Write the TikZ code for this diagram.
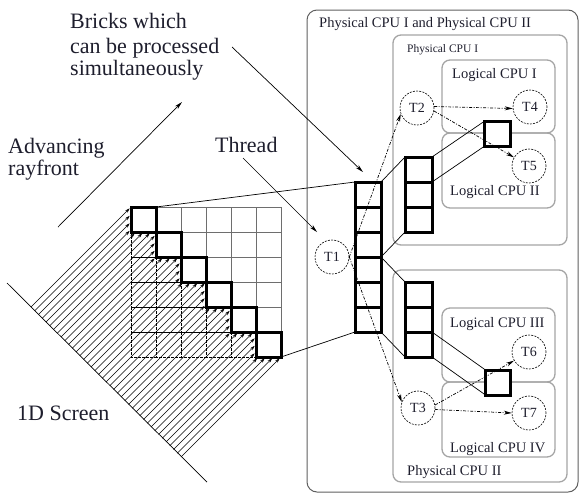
\documentclass[tikz,border=0pt]{standalone}
\usepackage{fontspec}
\setmainfont{Liberation Serif}
\usetikzlibrary{arrows.meta}
\definecolor{textc}{RGB}{30,30,45}
\definecolor{outerc}{RGB}{95,95,95}
\definecolor{innerc}{RGB}{165,165,165}
\definecolor{gridc}{RGB}{110,110,110}
\begin{document}
\begin{tikzpicture}[x=1pt,y=-1pt,
  brick/.style={draw=black, line width=3pt, minimum width=25pt, minimum height=25pt, inner sep=0pt, outer sep=0pt},
  stackcell/.style={brick, minimum width=26pt},
  smallbox/.style={brick, fill=white, minimum width=26pt},
  thinline/.style={draw=black, line width=0.7pt},
  gridline/.style={draw=gridc, line width=0.8pt},
  dashgrid/.style={draw=black, line width=0.7pt, dash pattern=on 2.5pt off 1.5pt},
  ray/.style={draw=black, line width=0.4pt, -{Stealth[length=5pt,width=3pt]}, shorten >=1.8pt},
  plainarrow/.style={draw=black, line width=0.7pt, -{Stealth[length=8pt,width=4pt]}},
  dasharrow/.style={draw=black, line width=0.7pt, dash pattern=on 3pt off 1.5pt on 1pt off 1.5pt, -{Stealth[length=8pt,width=4pt]}},
  thread/.style={circle, draw=black, line width=0.6pt, dash pattern=on 2pt off 1.2pt, minimum size=34pt, inner sep=0pt, fill=white, font=\fontsize{14}{16}\selectfont, text=textc},
  biglabel/.style={anchor=base west, inner sep=0pt, font=\fontsize{22}{24}\selectfont, text=textc},
  cpulabel/.style={anchor=base west, inner sep=0pt, font=\fontsize{14.5}{16}\selectfont, text=textc},
  outerbox/.style={draw=outerc, line width=1pt, rounded corners=10pt},
  innerbox/.style={draw=innerc, line width=1.3pt, rounded corners=8pt}
]
\useasboundingbox (0,0) rectangle (585,493);

% containers
\draw[outerbox] (307,10) rectangle (578,492);
\draw[innerbox] (393,35) rectangle (567,245);
\draw[innerbox] (393,270) rectangle (567,482);
\draw[innerbox] (442,60) rectangle (555,133);
\draw[innerbox] (442,133) rectangle (555,208);
\draw[innerbox] (442,308) rectangle (555,382);
\draw[innerbox] (442,382) rectangle (555,457);

% labels
\node[biglabel] (lb1) at (70,28) {Bricks which};
\node[biglabel] (lb2) at (70,53) {can be processed};
\node[biglabel] (lb3) at (70,75) {simultaneously};
\node[biglabel] (lb4) at (8,153) {Advancing};
\node[biglabel] (lb5) at (8,175) {rayfront};
\node[biglabel] (lb6) at (215,152) {Thread};
\node[biglabel] (lb7) at (17,420) {1D Screen};
\node[cpulabel] (c0) at (319,27) {Physical CPU I and Physical CPU II};
\node[cpulabel, font=\fontsize{11.5}{13}\selectfont] (c1) at (407,52) {Physical CPU I};
\node[cpulabel] (c2) at (452,78) {Logical CPU I};
\node[cpulabel] (c3) at (450,195) {Logical CPU II};
\node[cpulabel] (c4) at (450,327) {Logical CPU III};
\node[cpulabel] (c5) at (450,452) {Logical CPU IV};
\node[cpulabel] (c6) at (407,475) {Physical CPU II};

% grid
\foreach \r in {0,...,5} {
  \foreach \cc in {0,...,5} {
    \ifnum\cc>\r
      \draw[gridline] (131+25*\cc,207+25*\r) rectangle ++(25,25);
    \fi
    \ifnum\cc<\r
      \draw[dashgrid] (131+25*\cc,207+25*\r) rectangle ++(25,25);
    \fi
  }
}

% screen
\coordinate (scrA) at (7,283);
\coordinate (scrB) at (207,482);
\draw[thinline] (scrA) -- (scrB);

% rays
\foreach \n in {0,...,40} {
  \pgfmathsetmacro\c{338+7.5*\n}
  \pgfmathsetmacro\k{floor((\c-338)/50)}
  \pgfmathsetmacro\rr{\c-338-50*\k}
  \pgfmathsetmacro\ex{ifthenelse(\rr<=25,131+25*\k,\c-232-25*\k)}
  \pgfmathsetmacro\ey{\c-\ex}
  \draw[ray] ({(\c-276)/2},{(\c+276)/2}) -- (\ex,\ey);
}

% diagonal bricks
\foreach \k in {0,...,5} {
  \node[brick] (b\k) at (143.5+25*\k,219.5+25*\k) {};
}

% main stack
\foreach \i in {0,...,5} {
  \node[stackcell] (s\i) at (368,194.5+25*\i) {};
}
% upper and lower stacks
\foreach \i in {0,1,2} {
  \node[stackcell, minimum width=27pt] (u\i) at (418.5,169.5+25*\i) {};
  \node[stackcell, minimum width=27pt] (l\i) at (418.5,294.5+25*\i) {};
}
\node[smallbox] (ub) at (497,134) {};
\node[smallbox, minimum width=25pt] (lb) at (498,382.5) {};

% connectors between bricks
\draw[thinline] (b0.north east) -- (s0.north west);
\draw[thinline] (b5.south east) -- (s5.south west);
\draw[thinline] (s0.north east) -- (u0.north west);
\draw[thinline] (s2.south east) -- (u2.south west);
\draw[thinline] (s3.north east) -- (l0.north west);
\draw[thinline] (s5.south east) -- (l2.south west);
\draw[thinline] (u0.north east) -- (ub.north west);
\draw[thinline] (u0.south east) -- (ub.south west);
\draw[thinline] (l2.north east) -- (lb.north west);
\draw[thinline] (l2.south east) -- (lb.south west);

% threads
\node[thread] (T1) at (332,257) {T1};
\node[thread] (T2) at (417,108) {T2};
\node[thread] (T3) at (418,408) {T3};
\node[thread] (T4) at (530,107) {T4};
\node[thread] (T5) at (529,166) {T5};
\node[thread] (T6) at (529,352) {T6};
\node[thread] (T7) at (529,413) {T7};

\draw[dasharrow] (T1.east) -- (T2.200);
\draw[dasharrow] (T1.east) -- (T3.160);
\draw[dasharrow] (T2.5) -- (T4.185);
\draw[dasharrow] (T2.-10) -- (T5.150);
\draw[dasharrow] (T3.10) -- (T6.210);
\draw[dasharrow] (T3.-5) -- (T7.180);

% label arrows
\coordinate (rfA) at (58,227);
\coordinate (rfB) at (182,102);
\draw[plainarrow] (rfA) -- (rfB);
\coordinate (thA) at (243,158);
\coordinate (thB) at (317,232);
\draw[plainarrow] (thA) -- (thB);
\coordinate (brA) at (232,47);
\coordinate (brB) at (363,172);
\draw[plainarrow] (brA) -- (brB);
\end{tikzpicture}
\end{document}
